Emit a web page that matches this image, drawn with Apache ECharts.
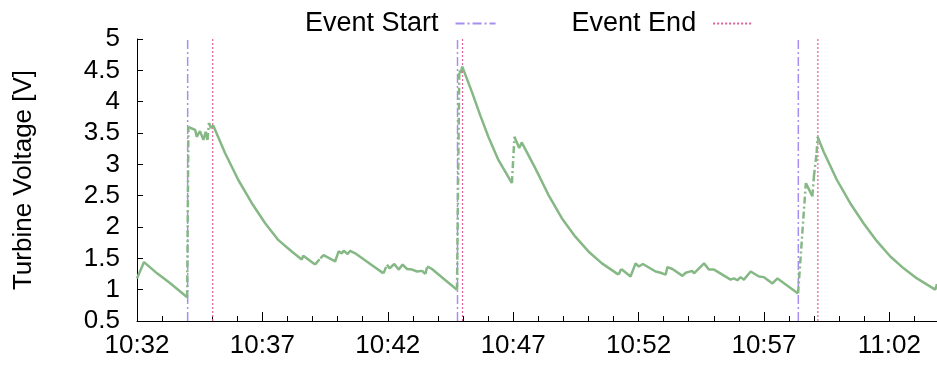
<!DOCTYPE html>
<html>
<head>
<meta charset="utf-8">
<script src="https://cdn.jsdelivr.net/npm/echarts@6/dist/echarts.min.js"></script>
<style>
  html, body { margin: 0; padding: 0; background: #fff; }
  #chart { width: 937px; height: 365px; }
</style>
</head>
<body>
<div id="chart"></div>
<script>
// minutes after 10:32; a null marks a break in the trace (the jump is drawn dashed)
const minutes = [
  0, 0.28, 0.8, 1.3, 1.7, 2.0, null,
  2.05, 2.14, 2.32, 2.38, 2.51, 2.65, 2.74, 2.81, null,
  2.87, 2.95, 3.04, 3.51, 4.04, 4.58, 5.11, 5.64, 6.17, 6.57, 6.63, 7.1, null,
  7.31, 7.44, 7.9, 8.04, 8.17, 8.24, 8.4, 8.5, 8.7, 9.3, 9.83, null,
  9.97, 10.07, 10.26, 10.43, 10.59, 10.77, 10.97, 11.17, 11.37, 11.5, null,
  11.57, 11.76, 12.3, 12.76, null,
  12.85, 12.91, 12.97, 13.35, 13.68, 14.01, 14.41, 14.95, null,
  15.05, 15.24, 15.34, 15.88, 16.41, 16.94, 17.47, 18.0, 18.54, 19.2, null,
  19.31, 19.68, 19.88, 20.01, 20.17, 20.68, 20.88, 21.08, 21.15, 21.35, 21.75, 21.88,
  22.14, 22.21, 22.61, 22.81, 23.01, 23.67, 23.8, 23.94, 24.07, 24.2, 24.47, 24.8,
  25.0, 25.34, 25.54, 26.36, null,
  26.67, 26.93, null,
  26.99, null,
  27.1, null,
  27.14, 27.38, 27.91, 28.44, 28.97, 29.51, 30.04, 30.57, 31.1, 31.83, 31.9
]
const volts = [
  1.18, 1.44, 1.26, 1.11, 0.98, 0.88, null,
  3.6, 3.58, 3.55, 3.44, 3.53, 3.39, 3.52, 3.39, null,
  3.66, 3.58, 3.62, 3.18, 2.75, 2.38, 2.06, 1.79, 1.61, 1.48, 1.54, 1.4, null,
  1.5, 1.55, 1.45, 1.61, 1.58, 1.62, 1.57, 1.62, 1.58, 1.41, 1.26, null,
  1.4, 1.34, 1.41, 1.32, 1.4, 1.33, 1.32, 1.29, 1.3, 1.25, null,
  1.37, 1.33, 1.15, 1.0, null,
  4.5, 4.46, 4.56, 4.16, 3.79, 3.44, 3.07, 2.7, null,
  3.44, 3.26, 3.35, 2.94, 2.51, 2.14, 1.85, 1.61, 1.42, 1.24, null,
  1.33, 1.21, 1.42, 1.37, 1.41, 1.29, 1.27, 1.24, 1.36, 1.33, 1.22, 1.27,
  1.3, 1.26, 1.42, 1.32, 1.32, 1.16, 1.18, 1.15, 1.2, 1.16, 1.29, 1.21,
  1.2, 1.1, 1.18, 0.94, null,
  2.7, 2.49, null,
  2.8, null,
  3.18, null,
  3.44, 3.2, 2.75, 2.38, 2.06, 1.77, 1.53, 1.34, 1.18, 1.0, 1.09
]
const eventStart = [2.02, 12.78, 26.37]
const eventEnd = [3.02, 12.98, 27.15]
const xTickMinutes = [0, 5, 10, 15, 20, 25, 30]
const xTickLabels = ['10:32', '10:37', '10:42', '10:47', '10:52', '10:57', '11:02']

const FONT = 'Liberation Sans'
const GREEN = '#86b886'
const Y_MIN = 0.5
const Y_MAX = 5

// solid pieces of the trace
const solid = minutes.map((t, i) => (volts[i] == null ? '-' : [t, volts[i]]))

// dashed jumps between the pieces
const links = []
for (let i = 1; i < volts.length - 1; i++) {
  if (volts[i] == null) {
    links.push([minutes[i - 1], volts[i - 1]], [minutes[i + 1], volts[i + 1]], '-')
  }
}

const chart = echarts.init(document.getElementById('chart'))

const option = {
  animation: false,
  textStyle: { fontFamily: FONT },
  grid: { left: 137, right: 0, top: 39, bottom: 44, containLabel: false },
  legend: {
    data: ['Event Start', 'Event End'],
    top: 5,
    left: 300,
    align: 'right',
    itemWidth: 40,
    itemHeight: 14,
    itemGap: 75,
    itemStyle: { color: 'rgba(0,0,0,0)', borderWidth: 0, opacity: 0 },
    textStyle: { fontSize: 27, color: '#000', fontFamily: FONT, padding: [0, 12, 0, 0] }
  },
  xAxis: [
    {
      type: 'value',
      min: 0,
      max: 31.9,
      axisLine: { lineStyle: { color: '#000', width: 1 } },
      axisTick: { inside: true, length: 9, customValues: xTickMinutes, lineStyle: { color: '#000' } },
      axisLabel: {
        customValues: xTickMinutes,
        color: '#000',
        fontSize: 26,
        fontFamily: FONT,
        margin: 12,
        formatter: v => xTickLabels[xTickMinutes.indexOf(v)]
      },
      splitLine: { show: false }
    },
    {
      type: 'value',
      min: 0,
      max: 31.9,
      position: 'bottom',
      axisLine: { show: false },
      axisTick: {
        inside: true,
        length: 5,
        customValues: Array.from({ length: 32 }, (_, i) => i),
        lineStyle: { color: '#000' }
      },
      axisLabel: { show: false },
      splitLine: { show: false }
    }
  ],
  yAxis: {
    type: 'value',
    min: Y_MIN,
    max: Y_MAX,
    interval: 0.5,
    name: 'Turbine Voltage [V]',
    nameLocation: 'middle',
    nameGap: 100,
    nameTextStyle: { fontSize: 26, color: '#000', fontFamily: FONT },
    axisLine: { show: true, lineStyle: { color: '#000', width: 1 } },
    axisTick: { show: true, inside: true, length: 6, lineStyle: { color: '#000' } },
    axisLabel: { color: '#000', fontSize: 26, fontFamily: FONT, margin: 17 },
    splitLine: { show: false }
  },
  series: [
    {
      name: 'Event Start',
      type: 'line',
      data: eventStart.flatMap(t => [[t, Y_MIN], [t, Y_MAX], '-']),
      symbol: 'none',
      lineStyle: { color: '#a58ef0', width: 1.5, type: [9, 3, 2, 3] },
      itemStyle: { color: '#a58ef0' },
      z: 3
    },
    {
      name: 'Event End',
      type: 'line',
      data: eventEnd.flatMap(t => [[t, Y_MIN], [t, Y_MAX], '-']),
      symbol: 'none',
      lineStyle: { color: '#e0609a', width: 1.2, type: [2, 2] },
      itemStyle: { color: '#e0609a' },
      z: 3
    },
    {
      name: 'Voltage',
      type: 'line',
      data: solid,
      symbol: 'none',
      connectNulls: false,
      lineStyle: { color: GREEN, width: 2.5 },
      z: 4
    },
    {
      name: 'Voltage jump',
      type: 'line',
      data: links,
      symbol: 'none',
      connectNulls: false,
      lineStyle: { color: GREEN, width: 2.5, type: [7, 3, 2, 3] },
      z: 4
    }
  ]
}

chart.setOption(option)
</script>
</body>
</html>
